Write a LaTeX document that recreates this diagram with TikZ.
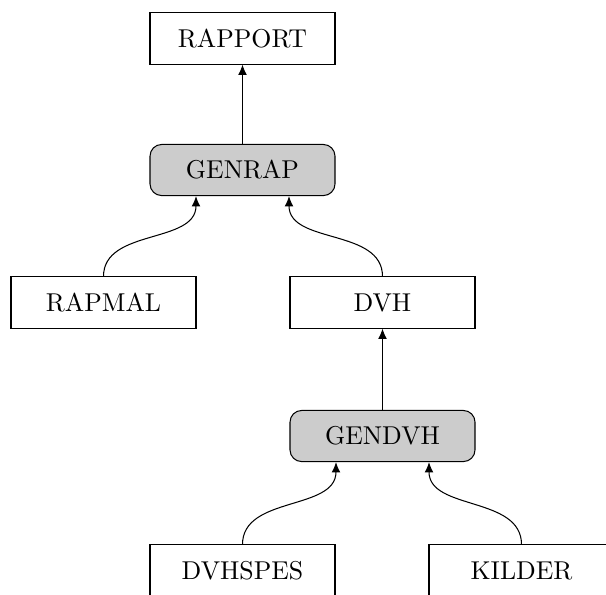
\documentclass[tikz,border=0pt]{standalone}
\usetikzlibrary{arrows.meta,calc}
\begin{document}
\begin{tikzpicture}[x=0.3876pt,y=-0.3876pt,
  box/.style={draw,line width=0.4pt,minimum width=71.7pt,minimum height=19.8pt,inner sep=0pt},
  genbox/.style={box,fill=gray!40,rounded corners=4.5pt},
  arr/.style={-{Latex[length=4pt,width=3.4pt]},line width=0.4pt}]
\useasboundingbox (0,0) rectangle (606,594);
\clip (0,0) rectangle (606,594);
\node[box] (rapport) at (242.5,38.5) {RAPPORT};
\node[genbox] (genrap) at (242.5,170) {GENRAP};
\node[box] (rapmal) at (103.5,302.5) {RAPMAL};
\node[box] (dvh) at (382.5,302.5) {DVH};
\node[genbox] (gendvh) at (382.5,436) {GENDVH};
\node[box] (dvhspes) at (242.5,570.5) {DVHSPES};
\node[box] (kilder) at (521.5,570.5) {KILDER};
\coordinate (grl) at ($(genrap.south west)!0.25!(genrap.south east)$);
\coordinate (grr) at ($(genrap.south west)!0.75!(genrap.south east)$);
\coordinate (gdl) at ($(gendvh.south west)!0.25!(gendvh.south east)$);
\coordinate (gdr) at ($(gendvh.south west)!0.75!(gendvh.south east)$);
\draw[arr] (genrap) -- (rapport);
\draw[arr] (gendvh) -- (dvh);
\draw[arr] (rapmal.north) to[out=90,in=-90] (grl);
\draw[arr] (dvh.north) to[out=90,in=-90] (grr);
\draw[arr] (dvhspes.north) to[out=90,in=-90] (gdl);
\draw[arr] (kilder.north) to[out=90,in=-90] (gdr);
\end{tikzpicture}
\end{document}
